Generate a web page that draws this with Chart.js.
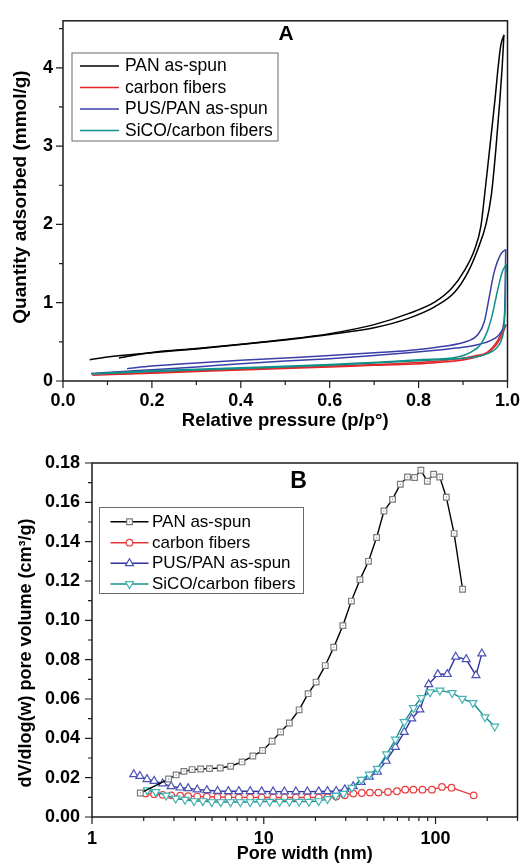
<!DOCTYPE html>
<html>
<head>
<meta charset="utf-8">
<script src="https://cdn.jsdelivr.net/npm/chart.js@4.4.0/dist/chart.umd.min.js"></script>
<style>
html, body { margin: 0; padding: 0; background: #fff; }
#wrap { position: relative; width: 529px; height: 865px; overflow: hidden; }
.box { position: absolute; left: 0; width: 529px; height: 435px; }
#boxA { top: 0; }
#boxB { top: 430px; }
</style>
</head>
<body>
<div id="wrap">
  <div class="box" id="boxA"><canvas id="chartA"></canvas></div>
  <div class="box" id="boxB"><canvas id="chartB"></canvas></div>
</div>
<script>
// ---- panel A : N2 isotherms (adsorption + desorption branches) ----
var panAdsP = [0.060, 0.10, 0.20, 0.30, 0.40, 0.50, 0.60, 0.70, 0.777, 0.837, 0.882, 0.911, 0.933, 0.952, 0.964, 0.974, 0.983, 0.988, 0.992];
var panAdsQ = [0.271, 0.305, 0.36, 0.41, 0.465, 0.525, 0.595, 0.68, 0.80, 0.95, 1.14, 1.39, 1.68, 2.01, 2.39, 2.97, 3.60, 4.01, 4.42];
var panDesP = [0.992, 0.985, 0.979, 0.972, 0.960, 0.948, 0.940, 0.926, 0.903, 0.874, 0.837, 0.777, 0.70, 0.60, 0.50, 0.40, 0.30, 0.20, 0.126];
var panDesQ = [4.42, 4.29, 4.01, 3.60, 2.97, 2.35, 1.97, 1.68, 1.41, 1.18, 1.01, 0.86, 0.72, 0.605, 0.53, 0.47, 0.415, 0.365, 0.295];

var cfAdsP = [0.066, 0.20, 0.40, 0.60, 0.70, 0.852, 0.926, 0.963, 0.985, 0.997];
var cfAdsQ = [0.075, 0.10, 0.14, 0.18, 0.20, 0.24, 0.30, 0.39, 0.55, 0.72];
var cfDesP = [0.997, 0.993, 0.977, 0.955, 0.926, 0.852, 0.70, 0.50, 0.30, 0.10];
var cfDesQ = [0.72, 0.68, 0.51, 0.37, 0.32, 0.26, 0.21, 0.17, 0.13, 0.085];

var pusAdsP = [0.063, 0.144, 0.20, 0.30, 0.40, 0.50, 0.60, 0.70, 0.777, 0.852, 0.90, 0.93, 0.95, 0.97, 0.985, 0.991, 0.994, 0.995, 0.996];
var pusAdsQ = [0.096, 0.125, 0.145, 0.18, 0.22, 0.255, 0.285, 0.325, 0.36, 0.40, 0.43, 0.46, 0.49, 0.54, 0.62, 0.72, 0.95, 1.30, 1.68];
var pusDesP = [0.996, 0.985, 0.970, 0.959, 0.948, 0.933, 0.911, 0.852, 0.777, 0.70, 0.60, 0.50, 0.40, 0.30, 0.20, 0.144];
var pusDesQ = [1.68, 1.62, 1.39, 1.075, 0.76, 0.59, 0.51, 0.44, 0.39, 0.36, 0.325, 0.295, 0.265, 0.23, 0.19, 0.158];

var sicoAdsP = [0.063, 0.20, 0.40, 0.60, 0.70, 0.80, 0.888, 0.93, 0.955, 0.977, 0.988, 0.992, 0.995, 0.996, 0.997];
var sicoAdsQ = [0.09, 0.12, 0.16, 0.20, 0.23, 0.26, 0.285, 0.31, 0.35, 0.43, 0.55, 0.68, 1.01, 1.30, 1.49];
var sicoDesP = [0.997, 0.988, 0.977, 0.966, 0.955, 0.94, 0.918, 0.89, 0.80, 0.60, 0.40, 0.20, 0.08];
var sicoDesQ = [1.49, 1.39, 1.14, 0.85, 0.64, 0.47, 0.37, 0.31, 0.27, 0.21, 0.17, 0.13, 0.095];

var pressureTicks = [0, 0.1, 0.2, 0.3, 0.4, 0.5, 0.6, 0.7, 0.8, 0.9, 1.0];
var quantityTicks = [0, 0.5, 1, 1.5, 2, 2.5, 3, 3.5, 4, 4.5];

// ---- panel B : pore size distribution ----
var panWidth = [1.91, 2.79, 3.09, 3.43, 3.83, 4.29, 4.83, 5.58, 6.41, 7.47, 8.64, 9.84, 11.18, 12.52, 14.09, 16.06, 18.12, 20.17, 22.80, 25.56, 28.87, 32.36, 36.32, 40.72, 45.39, 50.08, 56.16, 62.36, 68.63, 75.53, 82.15, 89.58, 97.41, 105.8, 115.5, 128.3, 143.7];
var panVol = [0.0122, 0.0193, 0.0214, 0.0232, 0.0241, 0.0244, 0.0246, 0.0249, 0.0258, 0.0280, 0.0310, 0.0338, 0.0385, 0.0432, 0.0478, 0.0545, 0.0627, 0.0686, 0.0770, 0.0863, 0.0973, 0.1098, 0.1207, 0.1300, 0.1421, 0.1556, 0.1615, 0.1692, 0.1729, 0.1726, 0.1763, 0.1707, 0.1743, 0.1729, 0.1626, 0.1441, 0.1158];

var cfWidth = [2.05, 2.30, 2.58, 2.89, 3.26, 3.63, 4.10, 4.66, 5.38, 6.22, 7.16, 8.33, 9.72, 11.33, 13.19, 15.38, 17.93, 20.88, 23.5, 26.4, 29.6, 33.2, 37.2, 41.5, 46.5, 52.8, 59.6, 66.6, 74.3, 83.9, 95.3, 109.0, 123.9, 166.8];
var cfVol = [0.0120, 0.0116, 0.0113, 0.0110, 0.0108, 0.0106, 0.0104, 0.0103, 0.0102, 0.0101, 0.0100, 0.0100, 0.0099, 0.0099, 0.0099, 0.0099, 0.0100, 0.0100, 0.0101, 0.0104, 0.0110, 0.0119, 0.0122, 0.0124, 0.0124, 0.0127, 0.0131, 0.0139, 0.0139, 0.0139, 0.0139, 0.0153, 0.0149, 0.0110];

var pusWidth = [1.75, 1.90, 2.09, 2.30, 2.58, 2.89, 3.26, 3.63, 4.10, 4.66, 5.38, 6.22, 7.16, 8.33, 9.72, 11.33, 13.19, 15.38, 17.93, 20.88, 23.5, 26.4, 29.6, 33.2, 36.9, 41.2, 45.9, 51.6, 58.4, 65.7, 72.6, 81.1, 91.2, 103.1, 117.0, 131.0, 150.8, 171.9, 186.0];
var pusVol = [0.0217, 0.0208, 0.0192, 0.0183, 0.0170, 0.0156, 0.0149, 0.0146, 0.0139, 0.0136, 0.0132, 0.0131, 0.0131, 0.0131, 0.0130, 0.0129, 0.0129, 0.0129, 0.0129, 0.0130, 0.0131, 0.0132, 0.0140, 0.0156, 0.0178, 0.0204, 0.0229, 0.0285, 0.0356, 0.0432, 0.0500, 0.0546, 0.0675, 0.0726, 0.0726, 0.0814, 0.0802, 0.0720, 0.0831];

var sicoWidth = [2.10, 2.35, 2.70, 3.07, 3.48, 3.93, 4.42, 4.98, 5.62, 6.41, 7.31, 8.33, 9.50, 10.83, 12.36, 14.09, 16.06, 18.31, 20.88, 23.5, 26.2, 29.1, 32.6, 36.9, 41.1, 45.9, 51.9, 58.4, 65.7, 74.3, 82.5, 93.0, 106.0, 125.0, 143.0, 165.0, 194.0, 221.0];
var sicoVol = [0.0136, 0.0127, 0.0110, 0.0094, 0.0088, 0.0081, 0.0081, 0.0076, 0.0076, 0.0076, 0.0076, 0.0076, 0.0078, 0.0078, 0.0078, 0.0078, 0.0078, 0.0078, 0.0081, 0.0092, 0.0108, 0.0119, 0.0149, 0.0190, 0.0216, 0.0246, 0.0319, 0.0394, 0.0483, 0.0555, 0.0605, 0.0635, 0.0644, 0.0631, 0.0602, 0.0580, 0.0508, 0.0461];

var widthTicks = [1, 2, 3, 4, 5, 6, 7, 8, 9, 10, 20, 30, 40, 50, 60, 70, 80, 90, 100, 200, 300];
var volumeTicks = [0, 0.01, 0.02, 0.03, 0.04, 0.05, 0.06, 0.07, 0.08, 0.09, 0.10, 0.11, 0.12, 0.13, 0.14, 0.15, 0.16, 0.17, 0.18];

var seriesNames = ['PAN as-spun', 'carbon fibers', 'PUS/PAN as-spun', 'SiCO/carbon fibers'];

var FONT = '"Liberation Sans", Arial, sans-serif';
Chart.defaults.font.family = FONT;
Chart.defaults.color = '#000';

function pts(xs, ys) {
    return xs.map(function (x, i) { return { x: x, y: ys[i] }; });
}

function isPow10(v) {
    var l = Math.log10(v);
    return Math.abs(l - Math.round(l)) < 1e-9;
}

// little marker drawer for the hand made legend
function marker(ctx, style, x, y, r, stroke) {
    ctx.save();
    ctx.fillStyle = '#fff';
    ctx.strokeStyle = stroke;
    ctx.lineWidth = 1.2;
    ctx.beginPath();
    if (style === 'rect') {
        var s = r * Math.SQRT1_2;
        ctx.rect(x - s, y - s, 2 * s, 2 * s);
    } else if (style === 'circle') {
        ctx.arc(x, y, r, 0, Math.PI * 2);
    } else {
        var dir = style === 'down' ? -1 : 1;
        for (var k = 0; k < 3; k++) {
            var a = k * 2 * Math.PI / 3;
            var px = x + Math.sin(a) * r * dir, py = y - Math.cos(a) * r * dir;
            if (k === 0) ctx.moveTo(px, py); else ctx.lineTo(px, py);
        }
        ctx.closePath();
    }
    ctx.fill();
    ctx.stroke();
    if (style === 'rect') {
        ctx.fillStyle = '#9a9a9a';
        ctx.fillRect(x - 0.6, y - 0.6, 1.2, 1.2);
    }
    ctx.restore();
}

function decor(cfg) {
    return {
        id: 'decor' + cfg.name,
        afterDatasetsDraw: function (chart) {
            // small centre dot inside the square markers (Origin style)
            if (!cfg.dotSet && cfg.dotSet !== 0) return;
            var ctx = chart.ctx;
            var meta = chart.getDatasetMeta(cfg.dotSet);
            ctx.save();
            ctx.fillStyle = '#9a9a9a';
            meta.data.forEach(function (el) {
                ctx.fillRect(el.x - 0.6, el.y - 0.6, 1.2, 1.2);
            });
            ctx.restore();
        },
        afterDraw: function (chart) {
            var ctx = chart.ctx, a = chart.chartArea;
            var xs = chart.scales.x, ys = chart.scales.y;
            ctx.save();
            // frame
            ctx.strokeStyle = '#1c1c1c';
            ctx.lineWidth = 1.5;
            ctx.strokeRect(a.left, a.top, a.right - a.left, a.bottom - a.top);
            // outward tick marks, major longer than minor
            ctx.lineWidth = 1.2;
            ctx.beginPath();
            xs.ticks.forEach(function (t) {
                var px = xs.getPixelForValue(t.value);
                var L = cfg.xMajor(t.value) ? 7 : 4;
                ctx.moveTo(px, a.bottom);
                ctx.lineTo(px, a.bottom + L);
            });
            ys.ticks.forEach(function (t) {
                var py = ys.getPixelForValue(t.value);
                var L = cfg.yMajor(t.value) ? 7 : 4;
                ctx.moveTo(a.left, py);
                ctx.lineTo(a.left - L, py);
            });
            ctx.stroke();

            // axis titles
            ctx.fillStyle = '#000';
            ctx.textAlign = 'center';
            ctx.textBaseline = 'middle';
            ctx.font = 'bold ' + cfg.xTitle[1] + 'px ' + FONT;
            ctx.fillText(cfg.xTitle[0], (a.left + a.right) / 2, cfg.xTitle[2]);
            ctx.save();
            ctx.translate(cfg.yTitle[2], cfg.yTitle[3]);
            ctx.rotate(-Math.PI / 2);
            ctx.font = 'bold ' + cfg.yTitle[1] + 'px ' + FONT;
            ctx.fillText(cfg.yTitle[0], 0, 0);
            ctx.restore();

            // panel letter
            ctx.font = 'bold ' + cfg.letter[1] + 'px ' + FONT;
            ctx.fillText(cfg.letter[0], cfg.letter[2], cfg.letter[3]);

            // legend
            var lg = cfg.legend;
            ctx.strokeStyle = '#6a6a6a';
            ctx.lineWidth = 1;
            ctx.strokeRect(lg.x, lg.y, lg.w, lg.h);
            ctx.font = lg.size + 'px ' + FONT;
            ctx.textAlign = 'left';
            lg.items.forEach(function (it, i) {
                var ry = lg.rows[i];
                ctx.strokeStyle = it.line;
                ctx.lineWidth = 1.5;
                ctx.beginPath();
                ctx.moveTo(lg.lx0, ry);
                ctx.lineTo(lg.lx1, ry);
                ctx.stroke();
                if (it.style) marker(ctx, it.style, (lg.lx0 + lg.lx1) / 2, ry, it.r, it.mark);
                ctx.fillStyle = '#000';
                ctx.fillText(seriesNames[i], lg.tx, ry + 0.5);
            });
            ctx.restore();
        }
    };
}

// ---------------- chart A ----------------
var colA = ['#000000', '#e4262b', '#3a3fa8', '#0f918a'];

function branch(p, q, color) {
    return {
        data: pts(p, q),
        showLine: true,
        borderColor: color,
        borderWidth: 1.5,
        pointRadius: 0,
        cubicInterpolationMode: 'monotone',
        fill: false
    };
}

new Chart(document.getElementById('chartA'), {
    type: 'scatter',
    data: {
        datasets: [
            branch(panAdsP, panAdsQ, colA[0]),
            branch(panDesP, panDesQ, colA[0]),
            branch(sicoAdsP, sicoAdsQ, colA[3]),
            branch(sicoDesP, sicoDesQ, colA[3]),
            branch(pusAdsP, pusAdsQ, colA[2]),
            branch(pusDesP, pusDesQ, colA[2]),
            branch(cfAdsP, cfAdsQ, colA[1]),
            branch(cfDesP, cfDesQ, colA[1])
        ]
    },
    options: {
        responsive: true,
        maintainAspectRatio: false,
        animation: false,
        layout: { padding: { top: 13, right: 14, left: 0, bottom: 0 } },
        plugins: { legend: { display: false }, tooltip: { enabled: false } },
        scales: {
            x: {
                type: 'linear', min: 0, max: 1,
                afterBuildTicks: function (s) { s.ticks = pressureTicks.map(function (v) { return { value: v }; }); },
                afterFit: function (s) { s.height = 54; },
                grid: { display: false, drawTicks: false },
                border: { display: false },
                ticks: {
                    autoSkip: false, maxRotation: 0, padding: 9,
                    font: { size: 18, weight: 'bold' },
                    callback: function (v) { return Math.round(v * 10) % 2 === 0 ? v.toFixed(1) : ''; }
                }
            },
            y: {
                type: 'linear', min: 0, max: 4.6,
                afterBuildTicks: function (s) { s.ticks = quantityTicks.map(function (v) { return { value: v }; }); },
                afterFit: function (s) { s.width = 63; },
                grid: { display: false, drawTicks: false },
                border: { display: false },
                ticks: {
                    autoSkip: false, padding: 10,
                    font: { size: 18, weight: 'bold' },
                    callback: function (v) { return Number.isInteger(v) ? String(v) : ''; }
                }
            }
        }
    },
    plugins: [decor({
        name: 'A',
        xMajor: function (v) { return Math.round(v * 10) % 2 === 0; },
        yMajor: function (v) { return Number.isInteger(v); },
        xTitle: ['Relative pressure (p/p\u00b0)', 18.5, 420.5],
        yTitle: ['Quantity adsorbed (mmol/g)', 19, 20.5, 197],
        letter: ['A', 21, 286, 34.5],
        legend: {
            x: 72, y: 53, w: 206, h: 88, size: 17.5,
            rows: [66, 87.5, 109, 130.5], lx0: 80, lx1: 119, tx: 125,
            items: [{ line: colA[0] }, { line: colA[1] }, { line: colA[2] }, { line: colA[3] }]
        }
    })]
});

// ---------------- chart B ----------------
var lineB = ['#000000', '#e23a3a', '#2e3399', '#168d8d'];
var markB = ['#7c7c7c', '#e84040', '#4a52b8', '#45b3b3'];

function seriesB(w, v, i, style, r, rot, order) {
    return {
        data: pts(w, v),
        showLine: true,
        borderColor: lineB[i],
        borderWidth: 1.4,
        pointStyle: style,
        pointRadius: r,
        pointRotation: rot,
        pointBorderColor: markB[i],
        pointBorderWidth: 1.2,
        pointBackgroundColor: '#ffffff',
        order: order
    };
}

new Chart(document.getElementById('chartB'), {
    type: 'scatter',
    data: {
        datasets: [
            seriesB(panWidth, panVol, 0, 'rect', 4, 0, 1),
            seriesB(cfWidth, cfVol, 1, 'circle', 3.3, 0, 4),
            seriesB(pusWidth, pusVol, 2, 'triangle', 4.6, 0, 3),
            seriesB(sicoWidth, sicoVol, 3, 'triangle', 4.6, 180, 2)
        ]
    },
    options: {
        responsive: true,
        maintainAspectRatio: false,
        animation: false,
        layout: { padding: { top: 33, right: 3, left: 0, bottom: 0 } },
        plugins: { legend: { display: false }, tooltip: { enabled: false } },
        scales: {
            x: {
                type: 'logarithmic', min: 1, max: 300,
                afterBuildTicks: function (s) { s.ticks = widthTicks.map(function (v) { return { value: v }; }); },
                afterFit: function (s) { s.height = 48; },
                grid: { display: false, drawTicks: false },
                border: { display: false },
                ticks: {
                    autoSkip: false, maxRotation: 0, padding: 11.5,
                    font: { size: 18, weight: 'bold' },
                    callback: function (v) { return isPow10(v) ? String(Math.round(v)) : ''; }
                }
            },
            y: {
                type: 'linear', min: 0, max: 0.18,
                afterBuildTicks: function (s) { s.ticks = volumeTicks.map(function (v) { return { value: v }; }); },
                afterFit: function (s) { s.width = 92; },
                grid: { display: false, drawTicks: false },
                border: { display: false },
                ticks: {
                    autoSkip: false, padding: 12,
                    font: { size: 18, weight: 'bold' },
                    callback: function (v) { return Math.round(v * 100) % 2 === 0 ? v.toFixed(2) : ''; }
                }
            }
        }
    },
    plugins: [decor({
        name: 'B',
        dotSet: 0,
        xMajor: isPow10,
        yMajor: function (v) { return Math.round(v * 100) % 2 === 0; },
        xTitle: ['Pore width (nm)', 18, 424.5],
        yTitle: ['dV/dlog(w) pore volume (cm\u00b3/g)', 18, 26.5, 223],
        letter: ['B', 23, 298.5, 51.5],
        legend: {
            x: 99.5, y: 77.5, w: 204, h: 86, size: 17,
            rows: [91.7, 112.7, 133.3, 154], lx0: 110.5, lx1: 148.5, tx: 152,
            items: [
                { line: lineB[0], mark: markB[0], style: 'rect', r: 4 },
                { line: lineB[1], mark: markB[1], style: 'circle', r: 3.3 },
                { line: lineB[2], mark: markB[2], style: 'up', r: 4.6 },
                { line: lineB[3], mark: markB[3], style: 'down', r: 4.6 }
            ]
        }
    })]
});
</script>
</body>
</html>
